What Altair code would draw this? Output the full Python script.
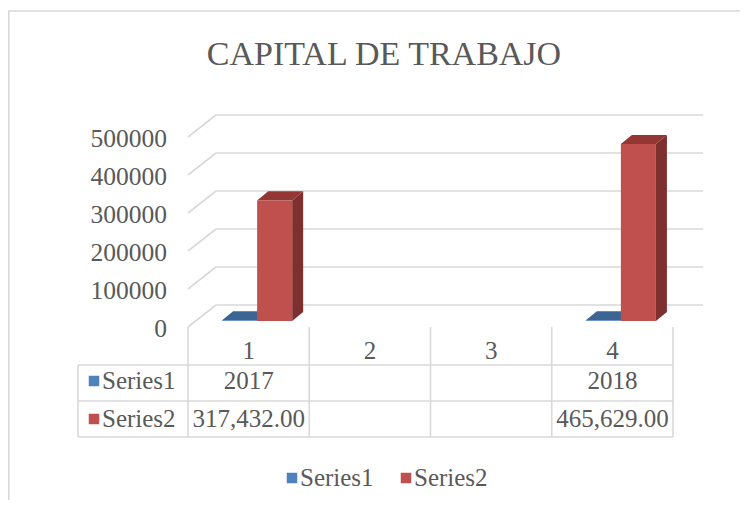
import altair as alt
import pandas as pd

# ---- data ----
CATEGORIES = [1, 2, 3, 4]
SERIES = ["Series1", "Series2"]
SERIES1 = [2017, None, None, 2018]
SERIES2 = [317432, None, None, 465629]
Y_TICKS = [0, 100000, 200000, 300000, 400000, 500000]
TABLE_S1 = ["2017", "", "", "2018"]
TABLE_S2 = ["317,432.00", "", "", "465,629.00"]
TITLE = "CAPITAL DE TRABAJO"

# ---- style ----
FONT = "Liberation Serif"
GRAY = "#595959"
GRID = "#D9D9D9"
FRONT = {"Series1": "#4F81BD", "Series2": "#C0504D"}
SIDE = {"Series1": "#385D8A", "Series2": "#7D302E"}
TOP = {"Series1": "#3D6594", "Series2": "#943634"}
BAR_W = 0.289          # bar width in category units
DX = 0.0907            # bar depth (category units)
DY = 23700             # bar depth (value units)
BAR_SHIFT_X, BAR_SHIFT_Y = 8.5, -6
WALL_X, WALL_Y = 28, -22

xs = alt.Scale(domain=[0.5, 4.5], range=[180, 665])
ys = alt.Scale(domain=[0, 500000], range=[319, 129])
colors = alt.Scale(domain=SERIES, range=[FRONT[s] for s in SERIES])

# bars
rows, side_rows, top_rows = [], [], []
for s_name, vals in zip(SERIES, [SERIES1, SERIES2]):
    for c, v in zip(CATEGORIES, vals):
        if v is None:
            continue
        x0 = c - BAR_W if s_name == "Series1" else c
        x1 = x0 + BAR_W
        rows.append({"series": s_name, "x0": x0, "x1": x1, "v": v, "cat": c})
        fid = f"{s_name}-{c}"
        side_rows += [
            {"face": fid, "x": x1, "y": v, "y2": 0, "fill": SIDE[s_name]},
            {"face": fid, "x": x1 + DX, "y": v + DY, "y2": DY, "fill": SIDE[s_name]},
        ]
        top_rows += [
            {"face": fid, "x": x0, "y": v, "y2": v, "fill": TOP[s_name]},
            {"face": fid, "x": x0 + DX, "y": v + DY, "y2": v, "fill": TOP[s_name]},
            {"face": fid, "x": x1, "y": v + DY, "y2": v, "fill": TOP[s_name]},
            {"face": fid, "x": x1 + DX, "y": v + DY, "y2": v + DY, "fill": TOP[s_name]},
        ]
bars = pd.DataFrame(rows)
sides = pd.DataFrame(side_rows)
tops = pd.DataFrame(top_rows)
ticks = pd.DataFrame({"t": Y_TICKS, "x": 0.5, "xr": 4.5,
                      "lab": [str(t) for t in Y_TICKS]})

# back wall gridlines
grid = alt.Chart(ticks).mark_rule(color=GRID, strokeWidth=1.6, xOffset=WALL_X,
                                  x2Offset=WALL_X + 2, yOffset=WALL_Y).encode(
    x=alt.X("x:Q", scale=xs, axis=None),
    x2="xr:Q",
    y=alt.Y("t:Q", scale=ys, axis=None),
)
# side wall diagonals
diag = alt.Chart(ticks).mark_rule(color=GRID, strokeWidth=1.6,
                                  x2Offset=WALL_X, y2Offset=WALL_Y).encode(
    x=alt.X("x:Q", scale=xs, axis=None),
    x2="x:Q",
    y=alt.Y("t:Q", scale=ys, axis=None),
    y2="t:Q",
)
ylabels = alt.Chart(ticks).mark_text(font=FONT, fontSize=25.5, color=GRAY,
                                     align="right", baseline="middle",
                                     dx=-21, dy=2).encode(
    x=alt.X("x:Q", scale=xs, axis=None),
    y=alt.Y("t:Q", scale=ys, axis=None),
    text="lab:N",
)

side_layer = alt.Chart(sides).mark_area(xOffset=BAR_SHIFT_X, yOffset=BAR_SHIFT_Y,
                                        y2Offset=BAR_SHIFT_Y).encode(
    x=alt.X("x:Q", scale=xs, axis=None),
    y=alt.Y("y:Q", scale=ys, axis=None, stack=None),
    y2="y2:Q",
    detail="face:N",
    color=alt.Color("fill:N", scale=None),
)
top_layer = alt.Chart(tops).mark_area(xOffset=BAR_SHIFT_X, yOffset=BAR_SHIFT_Y,
                                      y2Offset=BAR_SHIFT_Y).encode(
    x=alt.X("x:Q", scale=xs, axis=None),
    y=alt.Y("y:Q", scale=ys, axis=None, stack=None),
    y2="y2:Q",
    detail="face:N",
    color=alt.Color("fill:N", scale=None),
)
front_layer = alt.Chart(bars).mark_bar(xOffset=BAR_SHIFT_X, x2Offset=BAR_SHIFT_X,
                                       yOffset=BAR_SHIFT_Y, y2Offset=BAR_SHIFT_Y).encode(
    x=alt.X("x0:Q", scale=xs, axis=None),
    x2="x1:Q",
    y=alt.Y("v:Q", scale=ys, axis=None),
    y2=alt.datum(0),
    color=alt.Color("series:N", scale=colors, legend=None),
)

# data table
bounds = pd.DataFrame({"b": [0.5, 1.5, 2.5, 3.5, 4.5]})
vlines = alt.Chart(bounds).mark_rule(color=GRID, strokeWidth=1.6).encode(
    x=alt.X("b:Q", scale=xs, axis=None),
    y=alt.value(319), y2=alt.value(429),
)
hl = pd.DataFrame({"yy": [357, 393, 429]})
hlines = alt.Chart(hl).mark_rule(color=GRID, strokeWidth=1.6).encode(
    x=alt.value(70), x2=alt.value(665), y=alt.Y("yy:Q", scale=None),
)
left_border = alt.Chart(hl.head(1)).mark_rule(color=GRID, strokeWidth=1.6).encode(
    x=alt.value(70), y=alt.value(357), y2=alt.value(429),
)
tab = pd.DataFrame({
    "cat": CATEGORIES * 3,
    "txt": [str(c) for c in CATEGORIES] + TABLE_S1 + TABLE_S2,
    "yy": [343] * 4 + [373] * 4 + [411] * 4,
})
tab_text = alt.Chart(tab).mark_text(font=FONT, fontSize=25, color=GRAY,
                                    baseline="middle").encode(
    x=alt.X("cat:Q", scale=xs, axis=None),
    y=alt.Y("yy:Q", scale=None),
    text="txt:N",
)
rowlab = pd.DataFrame({"series": SERIES, "yy": [373, 411]})
row_sq = alt.Chart(rowlab).mark_square(size=110, opacity=1).encode(
    x=alt.value(86), y=alt.Y("yy:Q", scale=None),
    color=alt.Color("series:N", scale=colors, legend=None),
)
row_txt = alt.Chart(rowlab).mark_text(font=FONT, fontSize=25, color=GRAY,
                                      align="left", baseline="middle").encode(
    x=alt.value(94), y=alt.Y("yy:Q", scale=None), text="series:N",
)

# bottom legend
leg = pd.DataFrame({"series": SERIES, "lx": [284, 398]})
leg_sq = alt.Chart(leg).mark_square(size=110, opacity=1).encode(
    x=alt.X("lx:Q", scale=None), y=alt.value(470),
    color=alt.Color("series:N", scale=colors, legend=None),
)
leg_txt = alt.Chart(leg).mark_text(font=FONT, fontSize=25, color=GRAY,
                                   align="left", baseline="middle", dx=8).encode(
    x=alt.X("lx:Q", scale=None), y=alt.value(470), text="series:N",
)

# title as text
title_df = pd.DataFrame({"t": [TITLE]})
title = alt.Chart(title_df).mark_text(font=FONT, fontSize=34, color=GRAY,
                                      align="center", baseline="alphabetic").encode(
    x=alt.value(376), y=alt.value(57), text="t:N")

# chart frame
frame_top = alt.Chart(hl.head(1)).mark_rule(color=GRID, strokeWidth=1.6).encode(
    x=alt.value(0), x2=alt.value(732), y=alt.value(3))
frame_left = alt.Chart(hl.head(1)).mark_rule(color=GRID, strokeWidth=1.6).encode(
    x=alt.value(0.8), y=alt.value(3), y2=alt.value(492))

chart = alt.layer(
    frame_top, frame_left, title, grid, diag, ylabels,
    side_layer, top_layer, front_layer,
    vlines, hlines, left_border, tab_text, row_sq, row_txt, leg_sq, leg_txt,
).properties(
    width=732, height=492,
    padding=0,
    autosize=alt.AutoSizeParams(type="none"),
).configure_view(stroke=None)

chart.save("out.html", embed_options={"renderer": "svg", "actions": False})
